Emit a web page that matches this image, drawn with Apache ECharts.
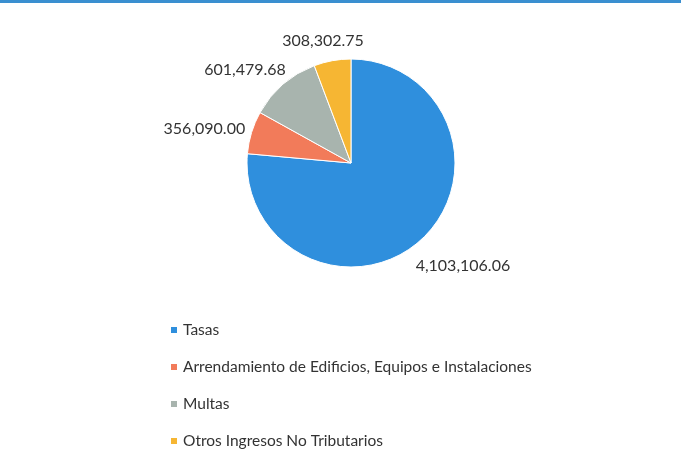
<!DOCTYPE html>
<html>
<head>
    <meta charset="utf-8">
    <script type="text/javascript" src="https://cdn.jsdelivr.net/npm/echarts@6/dist/echarts.min.js"></script>
    <style>
        html, body { margin: 0; padding: 0; background: #fff; }
    </style>
</head>
<body>
    <div id="main" style="width: 681px;height:472px;"></div>
    <script type="text/javascript">
    let categories = [
        'Tasas',
        'Arrendamiento de Edificios, Equipos e Instalaciones',
        'Multas',
        'Otros Ingresos No Tributarios'
    ]
    let values = [4103106.06, 356090.00, 601479.68, 308302.75]
    let colors = ['#2f8fdd', '#f27b5a', '#a8b4ae', '#f6b633']
    // nudges so labels sit where the spreadsheet put them
    let labelNudge = [[-20, 16], [12, 0], [17, -4], [39, -6]]

    let fmt = v => v.toLocaleString('en-US', {minimumFractionDigits: 2, maximumFractionDigits: 2})

    var myChart = echarts.init(document.getElementById('main'));
    let option = {
        textStyle: { fontFamily: 'Lato' },
        color: colors,
        graphic: [{
            type: 'rect',
            shape: { x: 0, y: 0, width: 681, height: 3 },
            style: { fill: '#3a8fd0' }
        }],
        legend: {
            orient: 'vertical',
            left: 164,
            top: 317,
            itemWidth: 8,
            itemHeight: 8,
            itemGap: 21,
            icon: 'rect',
            textStyle: { fontSize: 15.5, color: '#333', fontFamily: 'Lato' },
            data: categories
        },
        series: [{
            type: 'pie',
            center: [351, 163],
            radius: 104,
            startAngle: 90,
            clockwise: true,
            silent: true,
            itemStyle: { borderColor: '#fff', borderWidth: 1 },
            label: {
                show: true,
                position: 'outside',
                formatter: p => fmt(p.value),
                fontSize: 16,
                color: '#333',
                fontFamily: 'Lato'
            },
            labelLine: { show: false, length: 14, length2: 0 },
            data: categories.map((c, i) => ({
                name: c,
                value: values[i],
                label: { offset: labelNudge[i] }
            }))
        }]
    };
    myChart.setOption(option);
    </script>
</body>
</html>
